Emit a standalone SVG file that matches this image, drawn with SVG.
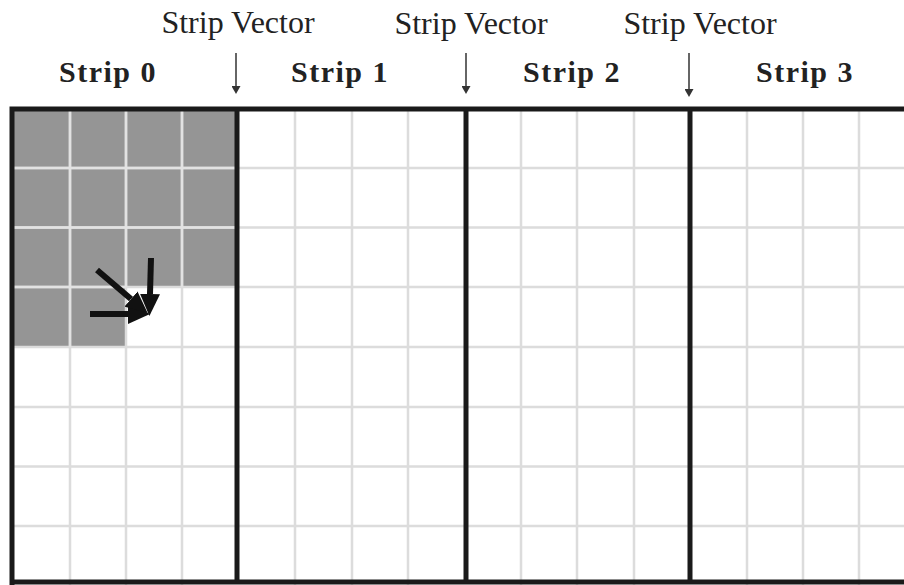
<svg xmlns="http://www.w3.org/2000/svg" width="904" height="585" viewBox="0 0 904 585">
<defs>
<style>
.lbl{font-family:"Liberation Serif","Times New Roman",serif;font-size:30px;font-weight:bold;letter-spacing:1.5px;fill:#222;text-anchor:middle}
.vec{font-family:"Liberation Serif","Times New Roman",serif;font-size:32px;fill:#222;text-anchor:middle}
.grid{stroke:#dcdcdc;stroke-width:2.5;fill:none}
.gridg{stroke:#e2e2e2;stroke-width:2.5;fill:none}
.border{stroke:#1a1a1a;stroke-width:5;fill:none}
.thin{stroke:#333;stroke-width:1.5;fill:none}
.thick{stroke:#111;stroke-width:6;fill:none}
</style>
<marker id="sm" viewBox="0 0 8 9" refX="0" refY="4.5" markerWidth="8" markerHeight="9" markerUnits="userSpaceOnUse" orient="auto">
<path d="M0,0 L8,4.5 L0,9 z" fill="#333"/>
</marker>
<marker id="bg" viewBox="0 0 22 20" refX="0" refY="10" markerWidth="22" markerHeight="20" markerUnits="userSpaceOnUse" orient="auto">
<path d="M0,0 L22,10 L0,20 z" fill="#111"/>
</marker>
</defs>
<rect width="904" height="585" fill="#fff"/>

<g id="strip0">
<path d="M12,109 H237 V287 H126 V347 H12 Z" fill="#959595"/>
<text class="lbl" x="108" y="82">Strip 0</text>
</g>
<g id="strip1"><text class="lbl" x="340" y="82">Strip 1</text></g>
<g id="strip2"><text class="lbl" x="572" y="82">Strip 2</text></g>
<g id="strip3"><text class="lbl" x="805" y="82">Strip 3</text></g>

<g id="gridlines">
<path class="grid" d="M70,109V585 M126,109V585 M182,109V585 M295,109V585 M352,109V585 M408,109V585 M521,109V585 M577,109V585 M634,109V585 M747,109V585 M803,109V585 M859,109V585"/>
<path class="grid" d="M12,168H904 M12,227.5H904 M12,287H904 M12,347H904 M12,407H904 M12,466.5H904 M12,526H904"/>
<path class="gridg" d="M70,109V347 M126,109V287 M182,109V287 M12,168H237 M12,227.5H237 M12,287H126"/>
</g>

<g id="borders">
<path class="border" d="M9.5,109H904 M12,109V585 M9.5,582H904 M237,109V582 M466,109V582 M690,109V582"/>
</g>

<g id="vector1"><text class="vec" x="238" y="33">Strip Vector</text></g>
<g id="vector2"><text class="vec" x="471" y="34">Strip Vector</text></g>
<g id="vector3"><text class="vec" x="700" y="34">Strip Vector</text></g>

<g id="connectors">
<line class="thin" x1="236" y1="53" x2="236" y2="86" marker-end="url(#sm)"/>
<line class="thin" x1="466" y1="53" x2="466" y2="86" marker-end="url(#sm)"/>
<line class="thin" x1="689" y1="53" x2="689" y2="89" marker-end="url(#sm)"/>
<line class="thick" x1="90" y1="314" x2="128" y2="314" marker-end="url(#bg)"/>
<line class="thick" x1="151" y1="258" x2="150" y2="294" marker-end="url(#bg)"/>
<line class="thick" x1="97" y1="270" x2="131" y2="299" marker-end="url(#bg)"/>
</g>
</svg>
